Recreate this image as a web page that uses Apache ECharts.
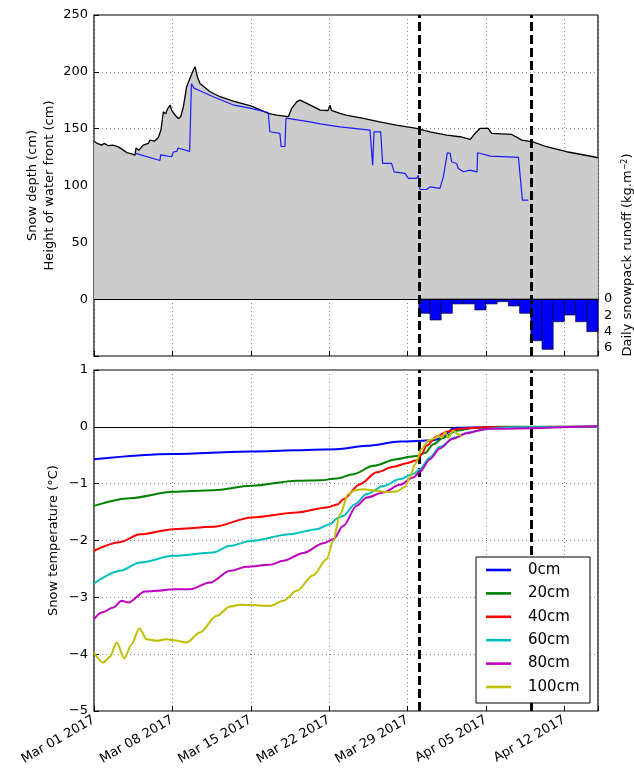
<!DOCTYPE html>
<html>
<head>
<meta charset="utf-8">
<script src="https://cdn.jsdelivr.net/npm/echarts@6/dist/echarts.min.js"></script>
<style>
html,body{margin:0;padding:0;background:#fff;}
#main{width:634px;height:773px;}
</style>
</head>
<body>
<div id="main"></div>
<script>
// ---- data (x = days since Mar 01 2017) ----
var xTickLabels = ['Mar 01 2017','Mar 08 2017','Mar 15 2017','Mar 22 2017','Mar 29 2017','Apr 05 2017','Apr 12 2017'];
var eventDays = [29, 39];

var depthDays = [0,0.3,0.68,0.9,1.28,1.7,2.17,2.5,2.92,3.3,3.66,3.75,4.0,4.4,4.85,5.0,5.15,5.4,5.74,5.98,6.19,6.4,6.55,6.79,6.93,7.23,7.53,7.74,7.98,8.27,8.57,8.87,9.02,9.17,9.23,9.46,10.36,11.25,12.5,14,15.56,16.3,17.35,17.65,18.1,18.4,19.0,20.2,20.9,21.07,21.2,21.96,22.5,24.05,25.5,27.0,28.8,30.0,31.5,32.68,33.27,33.6,34.02,34.46,35.2,35.5,37.3,38.2,39.2,40.4,42.2,44.6,45];
var depthValues = [139,137,135.5,137,135,135.5,134,132,129,128,126.7,133,131,135.5,137,140,141.4,139,142.3,148.8,164.9,163,167,170.8,166.4,162,159,160.5,169.3,186.9,194.3,201.6,204.5,203,195.7,189.8,182.5,178.1,174,170,163.4,162,160.5,167.9,173.6,175.1,172.2,166.3,166,170.7,166,163.4,162,159,156,153.1,150.2,147.2,144.3,142.9,141.4,140.5,145.8,150.2,150.2,145.8,144.9,139.9,138.4,134.1,129.7,125.3,124.4];

var frontDays = [3.72,5.89,5.95,6.93,7.08,7.4,7.5,8.54,8.7,8.93,9.4,10.6,12.4,13.9,15.56,15.7,16.6,16.7,17.05,17.14,19.29,20.2,21.96,24.64,24.75,24.88,25.0,25.6,25.77,26.57,26.8,27.77,28.07,28.81,28.96,29.1,29.7,30.0,30.89,31.19,31.55,31.8,31.93,32.38,32.53,33.0,33.57,34.2,34.25,35.4,37.9,38.0,38.25,38.78];
var frontValues = [128.2,122,127,125.3,129.5,130,133,130,189.5,185.7,183.6,178.3,171,168,164.2,147.3,145.8,134.3,134.3,159.2,156,154.2,151.6,148.7,148.7,117.9,147.2,147.2,119.4,119.4,112,110.6,106.2,106.2,109,96.5,96.5,98.8,97.4,107.6,128.8,128.2,120.9,119.4,115,112.1,113.5,112,128.8,125.9,124.7,113.5,87.1,87.1];

var runoffDays = [29,30,31,32,33,34,35,36,37,38,39,40,41,42,43,44];
var runoffValues = [1.76,2.58,1.76,0.61,0.61,1.35,0.61,0.33,0.86,1.76,5.12,6.18,2.79,1.97,2.79,4.01];

var depthNames = ['0cm','20cm','40cm','60cm','80cm','100cm'];
var temp0cm = [[0,-0.57],[7,-0.48],[14,-0.435],[21.66,-0.393],[24.35,-0.334],[27.32,-0.26],[30.3,-0.235],[31.2,-0.188],[31.64,-0.1],[31.93,-0.041],[32.38,-0.015],[34.76,-0.008],[45,0]];
var temp20cm = [[0,-1.39],[3.21,-1.255],[7.08,-1.144],[10.65,-1.115],[14.07,-1.038],[18.1,-0.95],[20.18,-0.94],[21.66,-0.909],[23.15,-0.833],[24.94,-0.686],[27.02,-0.569],[28.21,-0.528],[28.96,-0.51],[29.55,-0.46],[30.3,-0.305],[31.19,-0.19],[32.38,-0.07],[33.87,-0.02],[36.25,0],[45,0]];
var temp40cm = [[0,-2.18],[2.32,-2.03],[4.11,-1.89],[7.08,-1.8],[10.65,-1.76],[14.07,-1.595],[18.1,-1.507],[20.77,-1.419],[21.8,-1.36],[22.26,-1.273],[23.75,-1.009],[25.24,-0.8],[26.73,-0.704],[27.92,-0.64],[28.81,-0.59],[29.26,-0.48],[29.7,-0.33],[30.6,-0.17],[31.49,-0.085],[32.68,-0.035],[35.06,-0.006],[45,0]];
var temp60cm = [[0,-2.757],[2.32,-2.534],[4.11,-2.387],[7.08,-2.27],[10.65,-2.211],[12.14,-2.094],[14.07,-2.006],[17.5,-1.888],[19.88,-1.8],[21.07,-1.712],[21.8,-1.6],[22.26,-1.566],[23.3,-1.36],[24.35,-1.184],[25.83,-1.04],[27.32,-0.92],[28.51,-0.83],[29.1,-0.745],[30.0,-0.54],[30.89,-0.35],[32.2,-0.188],[33.4,-0.1],[35.06,-0.038],[36.85,-0.006],[45,0]];
var temp80cm = [[0,-3.384],[0.68,-3.267],[1.73,-3.179],[2.47,-3.062],[3.07,-3.091],[4.55,-2.897],[5.6,-2.885],[7.08,-2.856],[8.57,-2.856],[10.36,-2.738],[12.14,-2.534],[13.63,-2.463],[15.71,-2.428],[16.9,-2.358],[18.69,-2.22],[20.48,-2.05],[21.37,-1.976],[22.26,-1.741],[23.45,-1.39],[24.35,-1.243],[25.83,-1.155],[27.32,-1.02],[28.51,-0.89],[29.1,-0.79],[30.0,-0.569],[30.89,-0.38],[32.0,-0.21],[33.27,-0.115],[34.46,-0.06],[35.06,-0.035],[45,0.01]];
var temp100cm = [[0,-3.971],[0.83,-4.147],[1.43,-4.047],[2.02,-3.795],[2.71,-4.07],[3.36,-3.824],[4.05,-3.543],[4.7,-3.737],[5.6,-3.766],[6.49,-3.737],[7.08,-3.754],[8.27,-3.795],[9.46,-3.619],[10.95,-3.326],[12.14,-3.162],[13.04,-3.132],[15.71,-3.15],[16.9,-3.062],[18.1,-2.885],[19.58,-2.61],[20.77,-2.33],[21.37,-2.0],[21.96,-1.536],[22.71,-1.184],[23.3,-1.114],[24.05,-1.097],[25.24,-1.126],[26.28,-1.15],[27.02,-1.138],[27.77,-1.06],[28.21,-0.891],[28.66,-0.657],[29.26,-0.39],[29.85,-0.24],[30.45,-0.2],[30.74,-0.158],[31.04,-0.19],[31.34,-0.1],[31.64,-0.188],[32.08,-0.07],[32.53,-0.129],[32.82,-0.176]];
var tempSeries = [temp0cm,temp20cm,temp40cm,temp60cm,temp80cm,temp100cm];
var tempColors = ['#0000ff','#008000','#ff0000','#00bfbf','#bf00bf','#bfbf00'];

// ---- chart ----
var FONT = 'DejaVu Sans';
function zip(a,b){ return a.map(function(v,i){ return [v,b[i]]; }); }
var chart = echarts.init(document.getElementById('main'), null, {renderer:'canvas'});

var dotted = {show:true, lineStyle:{color:'#888', type:[1,3], width:1}};
function xAx(gi, showLabels){
  return {
    type:'value', gridIndex:gi, min:0, max:45, interval:7,
    axisLine:{show:false, onZero:false},
    axisTick:{show: gi!==1, inside:true, length:5, lineStyle:{color:'#000'}},
    splitLine: gi===1 ? {show:false} : dotted,
    axisLabel: showLabels ? {
      show:true, rotate:30, fontFamily:FONT, fontSize:13, color:'#000', margin:8,
      formatter:function(v){ return (v%7===0 && v/7 < xTickLabels.length) ? xTickLabels[v/7] : ''; }
    } : {show:false}
  };
}

var series = [];
series.push({
  type:'line', xAxisIndex:0, yAxisIndex:0, data: zip(depthDays, depthValues),
  showSymbol:false, symbol:'none', lineStyle:{color:'#000', width:1.3},
  areaStyle:{color:'#cccccc', opacity:1}, z:2, silent:true
});
series.push({
  type:'line', xAxisIndex:0, yAxisIndex:0, data: zip(frontDays, frontValues),
  showSymbol:false, symbol:'none', lineStyle:{color:'#1a1aff', width:1.2}, z:3, silent:true
});
series.push({
  type:'custom', xAxisIndex:1, yAxisIndex:1, z:4, silent:true,
  data: runoffDays.map(function(d,i){ return [d, d+1, runoffValues[i]]; }),
  renderItem:function(params, api){
    var p0 = api.coord([api.value(0), 0]);
    var p1 = api.coord([api.value(1), api.value(2)]);
    return {type:'rect', shape:{x:p0[0], y:p0[1], width:p1[0]-p0[0], height:p1[1]-p0[1]},
      style:{fill:'#0000ff', stroke:'#000', lineWidth:0.6}};
  }
});
// zero lines + event lines
[0,2].forEach(function(gi){
  series.push({
    type:'line', xAxisIndex:gi, yAxisIndex:gi===0?0:2, data:[], z:10, silent:true,
    markLine:{symbol:'none', silent:true, label:{show:false}, animation:false,
      data:[{yAxis:0, lineStyle:{color:'#000', type:'solid', width:1}}]
        .concat(eventDays.map(function(d){ return {xAxis:d, lineStyle:{color:'#000', type:[9,4], width:3}}; }))
    }
  });
});
tempSeries.forEach(function(s,i){
  series.push({
    name: depthNames[i], type:'line', xAxisIndex:2, yAxisIndex:2, data:s,
    showSymbol:false, symbol:'none', smooth:0.3, smoothMonotone:'x',
    lineStyle:{color:tempColors[i], width:2}, itemStyle:{color:tempColors[i]}, z:5+i, silent:true
  });
});

// legend box (drawn as graphic for exact placement)
var legendEls = [{type:'rect', shape:{x:476, y:557, width:114, height:146},
  style:{fill:'#fff', stroke:'#000', lineWidth:1}, z:100}];
depthNames.forEach(function(n,i){
  var yy = 570 + 23.4*i;
  legendEls.push({type:'line', shape:{x1:486, y1:yy, x2:511, y2:yy}, style:{stroke:tempColors[i], lineWidth:2.6}, z:101});
  legendEls.push({type:'text', x:528, y:yy, style:{text:n, font:'15px "DejaVu Sans"', fill:'#000', textVerticalAlign:'middle', verticalAlign:'middle', textAlign:'left', align:'left'}, z:101});
});

chart.setOption({
  animation:false,
  backgroundColor:'#fff',
  textStyle:{fontFamily:FONT},
  grid:[
    {left:94, top:15, width:504, height:341, show:true, borderColor:'#000', borderWidth:1.2, backgroundColor:'transparent'},
    {left:94, top:299, width:504, height:57, show:false},
    {left:94, top:370, width:504, height:341, show:true, borderColor:'#000', borderWidth:1.2, backgroundColor:'transparent'}
  ],
  xAxis:[ xAx(0,false), xAx(1,false), xAx(2,true) ],
  yAxis:[
    {type:'value', gridIndex:0, min:-50, max:250, interval:50,
     axisLine:{show:false}, axisTick:{show:true, inside:true, length:5, lineStyle:{color:'#000'}},
     splitLine:{show:true, lineStyle:{color:'#888', type:[1,3], width:1}},
     axisLabel:{fontFamily:FONT, fontSize:13, color:'#000', margin:6, formatter:function(v){ return v<0?'':String(v); }},
     name:'Snow depth (cm)\nHeight of water front (cm)', nameLocation:'middle', nameRotate:90, nameGap:36, nameMoveOverlap:false,
     nameTextStyle:{fontFamily:FONT, fontSize:13, color:'#000', lineHeight:17}
    },
    {type:'value', gridIndex:1, position:'right', inverse:true, min:0, max:7, interval:2,
     axisLine:{show:false}, axisTick:{show:false},
     splitLine:{show:false},
     axisLabel:{fontFamily:FONT, fontSize:13, color:'#000', margin:6, formatter:function(v){ return v>6?'':String(v); }}
    },
    {type:'value', gridIndex:2, min:-5, max:1, interval:1,
     axisLine:{show:false}, axisTick:{show:true, inside:true, length:5, lineStyle:{color:'#000'}},
     splitLine:{show:true, lineStyle:{color:'#888', type:[1,3], width:1}},
     axisLabel:{fontFamily:FONT, fontSize:13, color:'#000', margin:6, formatter:function(v){ return v<0 ? '\u2212'+Math.abs(v) : String(v); }},
     name:'Snow temperature (\u00b0C)', nameLocation:'middle', nameRotate:90, nameGap:34, nameMoveOverlap:false,
     nameTextStyle:{fontFamily:FONT, fontSize:13, color:'#000'}
    }
  ],
  graphic:[{
    type:'text', x:628, y:255, rotation:Math.PI/2,
    style:{
      text:'Daily snowpack runoff (kg.m{sup|\u22122})',
      font:'13px "DejaVu Sans"', fill:'#000',
      textAlign:'center', textVerticalAlign:'middle', align:'center', verticalAlign:'middle',
      rich:{sup:{fontSize:8, fontFamily:FONT, fill:'#000', verticalAlign:'top', padding:[0,0,6,0]}}
    }
  }].concat(legendEls),
  series: series
});
</script>
</body>
</html>
